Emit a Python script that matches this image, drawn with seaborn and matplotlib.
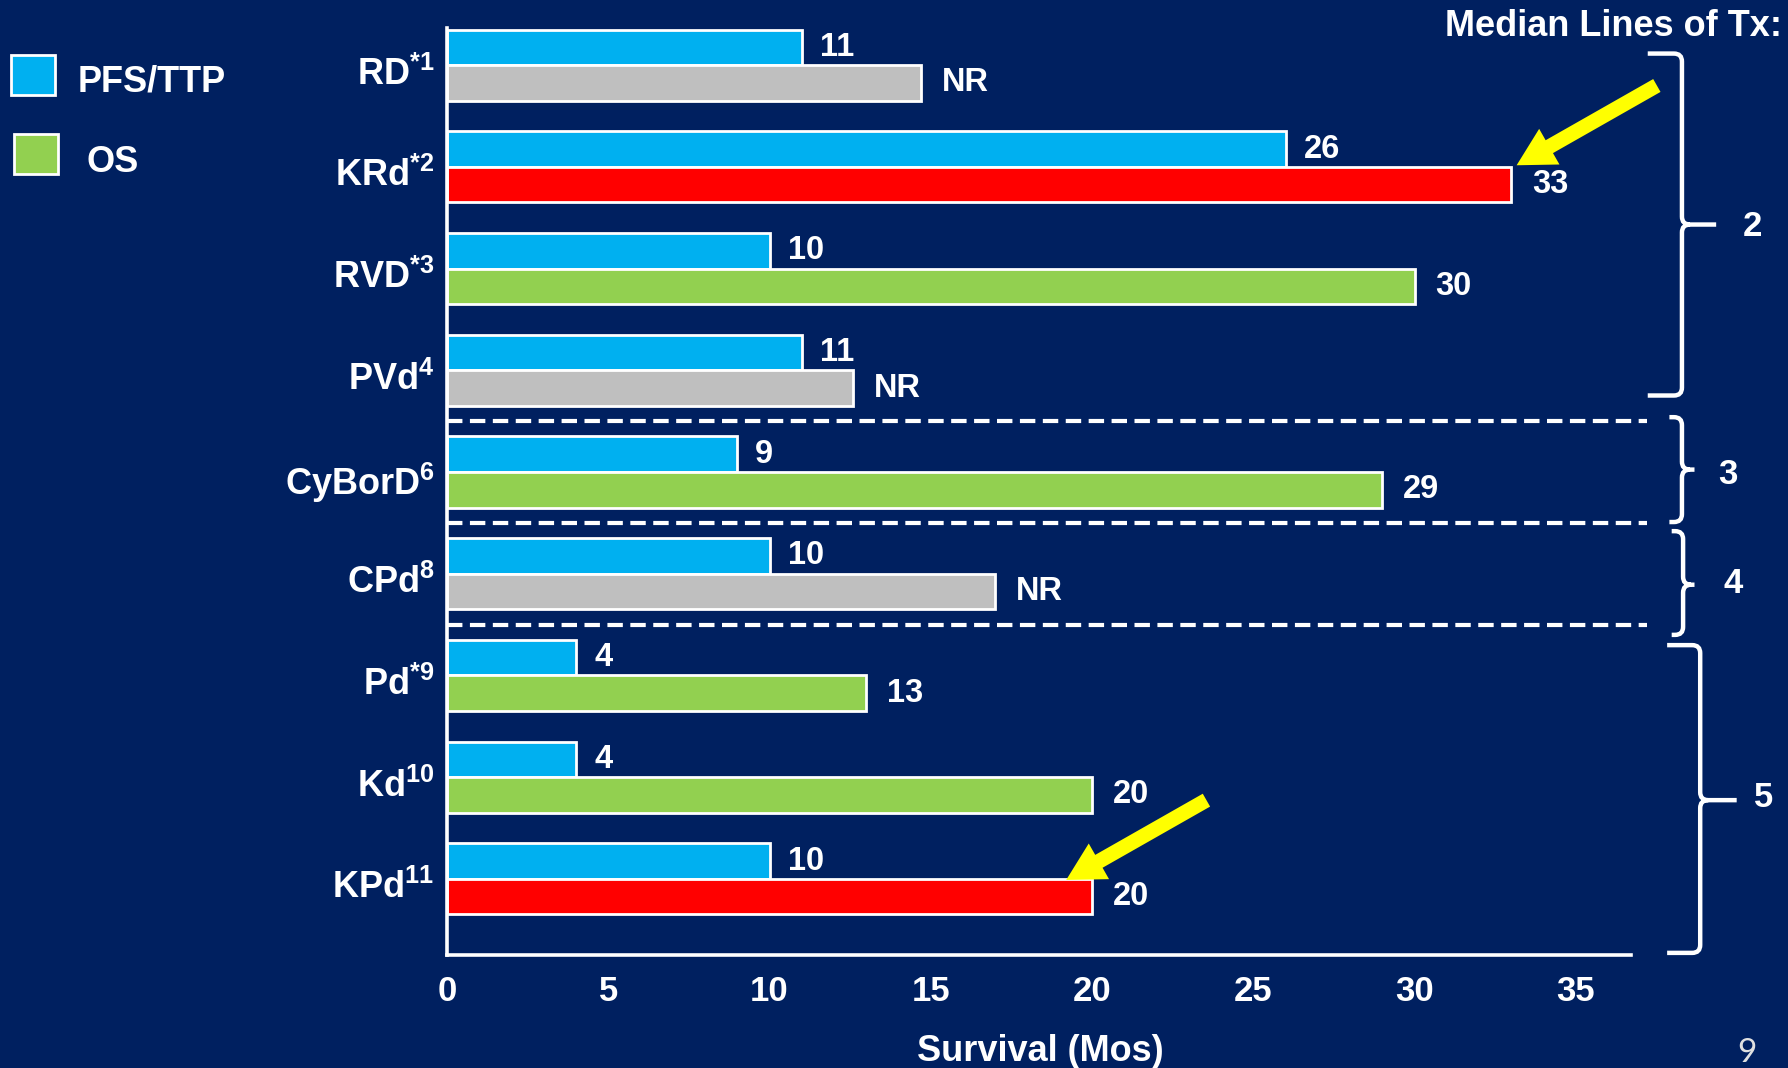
import numpy as np
import pandas as pd
import matplotlib
matplotlib.use("Agg")
import matplotlib.pyplot as plt
import seaborn as sns
from matplotlib.path import Path
from matplotlib.patches import PathPatch, Rectangle, FancyArrow
from matplotlib.transforms import ScaledTranslation

# ---------------- data ----------------
regimens = ["RD", "KRd", "RVD", "PVd", "CyBorD", "CPd", "Pd", "Kd", "KPd"]
refs = ["*1", "*2", "*3", "4", "6", "8", "*9", "10", "11"]
pfs_months = [11, 26, 10, 11, 9, 10, 4, 4, 10]
# NR (not reached) bars drawn at their pictured length
os_months = [14.7, 33, 30, 12.6, 29, 17.0, 13, 20, 20]
os_labels = ["NR", "33", "30", "NR", "29", "NR", "13", "20", "20"]
os_status = ["NR", "highlight", "reported", "NR", "reported", "NR",
             "reported", "reported", "highlight"]
line_groups = ["2", "3", "4", "5"]
x_ticks = [0, 5, 10, 15, 20, 25, 30, 35]

BG = "#002060"
C_PFS = "#00B0F0"
C_OS = "#92D050"
C_NR = "#BFBFBF"
C_HI = "#FF0000"
status_color = {"NR": C_NR, "highlight": C_HI, "reported": C_OS}

sns.set_theme(style="white")
plt.rcParams["font.family"] = ["Liberation Sans", "DejaVu Sans"]
plt.rcParams["font.weight"] = "bold"
plt.rcParams["mathtext.fontset"] = "custom"
plt.rcParams["mathtext.rm"] = "Liberation Sans:bold"
plt.rcParams["mathtext.bf"] = "Liberation Sans:bold"
plt.rcParams["mathtext.it"] = "Liberation Sans:bold"
plt.rcParams["mathtext.default"] = "rm"

W, H = 1568, 937  # layout units (scaled reference)
fig = plt.figure(figsize=(17.88, 10.68), dpi=100, facecolor=BG)
ax = fig.add_axes([392 / W, 1 - 838 / H, (1430 - 392) / W, (838 - 25) / H])
ax.set_facecolor(BG)

cat_labels = [f"{r}$^{{{s}}}$" for r, s in zip(regimens, refs)]
df = pd.DataFrame({
    "regimen": cat_labels * 2,
    "months": pfs_months + os_months,
    "measure": ["PFS/TTP"] * len(regimens) + ["OS"] * len(regimens),
})
sns.barplot(data=df, y="regimen", x="months", hue="measure", order=cat_labels,
            hue_order=["PFS/TTP", "OS"], palette=[C_PFS, C_OS], saturation=1,
            orient="h", width=0.7, gap=0, edgecolor="white", linewidth=2,
            legend=False, errorbar=None, ax=ax)

for patch, st in zip(ax.containers[1], os_status):
    patch.set_facecolor(status_color[st])

ax.bar_label(ax.containers[0], labels=[str(v) for v in pfs_months], padding=13,
             color="white", fontsize=23.5, fontweight="bold")
ax.bar_label(ax.containers[1], labels=os_labels, padding=15,
             color="white", fontsize=23.5, fontweight="bold")

ax.set_xlim(0, 36.7)
ax.set_ylim(8.75, -0.36)
ax.set_xticks(x_ticks)
ax.set_xticklabels([str(t) for t in x_ticks])
ax.set_xlabel("")
ax.set_ylabel("")
ax.tick_params(axis="x", length=0, pad=14, labelsize=25, labelcolor="white")
ax.tick_params(axis="y", length=0, pad=9, labelsize=26, labelcolor="white")
shift = ScaledTranslation(0, -0.055, fig.dpi_scale_trans)
for lab in ax.get_yticklabels():
    lab.set_fontweight("bold")
    lab.set_transform(lab.get_transform() + shift)
for lab in ax.get_xticklabels():
    lab.set_fontweight("bold")
sns.despine(ax=ax)
for s in ["left", "bottom"]:
    ax.spines[s].set_color("white")
    ax.spines[s].set_linewidth(2.6)
    ax.spines[s].set_zorder(5)

# dashed separators between line-of-therapy groups
for yb in [3.5, 4.5, 5.5]:
    ax.axhline(yb, xmin=0, xmax=1.014, color="white", lw=3,
               ls=(0, (3.7, 1.8)), clip_on=False)

# ---------------- overlay for annotations ----------------
ov = fig.add_axes([0, 0, 1, 1], zorder=10)
ov.set_xlim(0, W)
ov.set_ylim(H, 0)
ov.axis("off")
ov.patch.set_alpha(0)

# legend
ov.add_patch(Rectangle((10, 48), 38, 35, facecolor=C_PFS, edgecolor="white", lw=2))
ov.add_patch(Rectangle((12, 118), 39, 35, facecolor=C_OS, edgecolor="white", lw=2))
ov.text(68, 80, "PFS/TTP", color="white", fontsize=26, fontweight="bold",
        ha="left", va="baseline")
ov.text(76, 151, "OS", color="white", fontsize=26, fontweight="bold",
        ha="left", va="baseline")

ov.text(1563, 32, "Median Lines of Tx:", color="white", fontsize=26,
        fontweight="bold", ha="right", va="baseline")
ov.text(912, 931, "Survival (Mos)", color="white", fontsize=26,
        fontweight="bold", ha="center", va="baseline")
ov.text(1532, 924, "9", color="#E0E0E0", fontsize=24, fontweight="normal",
        family=["Lato", "DejaVu Sans"], ha="center", va="center")


def brace(xl, xv, xt, top, tip, bot, r=7):
    verts = [(xl, top), (xv - r, top), (xv, top), (xv, top + r),
             (xv, tip - r), (xv, tip), (xv + r, tip), (xt, tip),
             (xv + r, tip), (xv, tip), (xv, tip + r),
             (xv, bot - r), (xv, bot), (xv - r, bot), (xl, bot)]
    codes = [Path.MOVETO, Path.LINETO, Path.CURVE3, Path.CURVE3,
             Path.LINETO, Path.CURVE3, Path.CURVE3, Path.LINETO,
             Path.MOVETO, Path.CURVE3, Path.CURVE3,
             Path.LINETO, Path.CURVE3, Path.CURVE3, Path.LINETO]
    ov.add_patch(PathPatch(Path(verts, codes), facecolor="none",
                           edgecolor="white", lw=3.2, capstyle="butt"))


braces = [
    (1445, 1475, 1505, 47, 197, 347, (1537, 199)),
    (1464, 1475, 1486, 366, 412, 458, (1515, 416)),
    (1466, 1476, 1486, 466, 513, 557, (1520, 512)),
    (1462, 1491, 1523, 566, 702, 836, (1547, 700)),
]
for (xl, xv, xt, top, tip, bot, (lx, ly)), g in zip(braces, line_groups):
    brace(xl, xv, xt, top, tip, bot)
    ov.text(lx, ly, g, color="white", fontsize=25, fontweight="bold",
            ha="center", va="center")

# highlight arrows
for (x0, y0, x1, y1) in [(1453, 75, 1330, 145), (1058, 702, 935, 772)]:
    ov.add_patch(FancyArrow(x0, y0, x1 - x0, y1 - y0, width=13, head_width=36,
                            head_length=33, length_includes_head=True,
                            color="#FFFF00", lw=0))

fig.savefig("out.png", dpi=100, facecolor=BG)
